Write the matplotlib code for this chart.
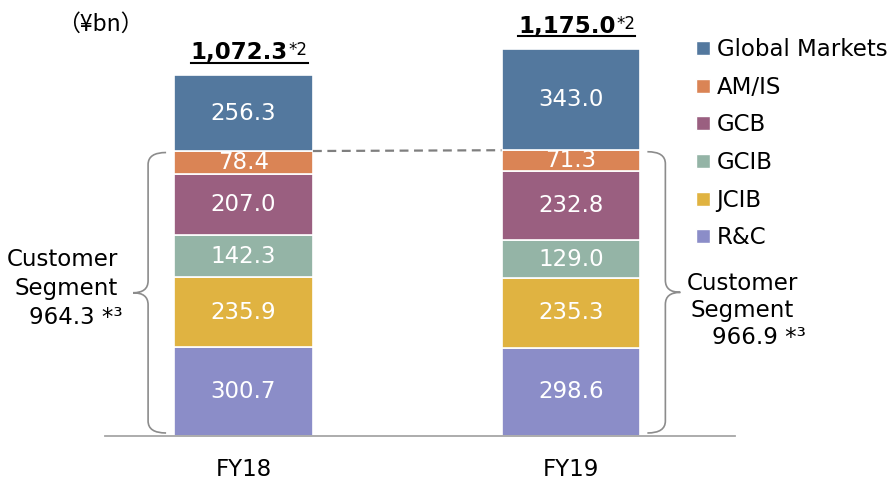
import matplotlib
matplotlib.use("Agg")
import matplotlib.pyplot as plt
from matplotlib.path import Path
from matplotlib.patches import PathPatch
from matplotlib.lines import Line2D

# データ（単位: ¥bn）
years = ["FY18", "FY19"]
segments = ["R&C", "JCIB", "GCIB", "GCB", "AM/IS", "Global Markets"]
rc = [300.7, 298.6]
jcib = [235.9, 235.3]
gcib = [142.3, 129.0]
gcb = [207.0, 232.8]
amis = [78.4, 71.3]
gm = [256.3, 343.0]
totals = [1072.3, 1175.0]
customer = [964.3, 966.9]

colors = ["#8B8DC8", "#E0B341", "#94B4A6", "#9A5F80", "#DA8455", "#53789E"]

W, H = 894, 479
plt.rcParams['font.family'] = ['DejaVu Sans']

fig = plt.figure(figsize=(W / 100, H / 100), dpi=100)
ax = fig.add_axes([105 / W, (H - 436) / H, (735 - 105) / W, 430 / H])
ax.set_xlim(-0.423, 1.501)
ax.set_ylim(0, 1455)

x = [0, 1]
width = 0.424
series = [rc, jcib, gcib, gcb, amis, gm]

bottom = [0.0, 0.0]
for name, vals, col in zip(segments, series, colors):
    ax.bar(x, vals, width, bottom=bottom, color=col, edgecolor="white",
           linewidth=1.2, label=name)
    for i in range(2):
        ax.text(x[i], bottom[i] + vals[i] / 2, f"{vals[i]:.1f}", color="white",
                ha="center", va="center", fontsize=16.5)
    bottom = [bottom[i] + vals[i] for i in range(2)]

# カスタマーセグメント上端
cust_top = [rc[i] + jcib[i] + gcib[i] + gcb[i] + amis[i] for i in range(2)]

# 点線
ax.plot([x[0] + width / 2, x[1] - width / 2], [cust_top[0], cust_top[1]],
        color="#7F7F7F", lw=1.6, linestyle=(0, (4, 2.5)))

# ピクセル→データ換算
upx = (1.501 + 0.423) / (735 - 105)
upy = 1455 / 430


def brace(xe, sign, top, bot):
    # sign = -1: 左向き, +1: 右向き
    xv = xe + sign * 18 * upx
    xt = xe + sign * 33 * upx
    r = 12 * upy
    mid = (top + bot) / 2
    verts = [(xe, top), (xv, top), (xv, top - r),
             (xv, mid + r),
             (xv, mid), (xt, mid),
             (xv, mid), (xv, mid - r),
             (xv, bot + r),
             (xv, bot), (xe, bot)]
    codes = [Path.MOVETO, Path.CURVE3, Path.CURVE3,
             Path.LINETO,
             Path.CURVE3, Path.CURVE3,
             Path.CURVE3, Path.CURVE3,
             Path.LINETO,
             Path.CURVE3, Path.CURVE3]
    ax.add_patch(PathPatch(Path(verts, codes), facecolor="none",
                           edgecolor="#8C8C8C", lw=1.2, clip_on=False))


brace(x[0] - width / 2 - 8 * upx, -1, cust_top[0] - 1.5 * upy, 3 * upy)
brace(x[1] + width / 2 + 7 * upx, 1, cust_top[1] - 1.5 * upy, 3 * upy)


def px(xp, yp):
    return xp / W, 1 - yp / H


fs = 16.5
for txt, (xp, yp) in zip(["Customer", "Segment", f"{customer[0]:.1f} *³"],
                         [(7, 260), (14, 289), (29, 317)]):
    fig.text(*px(xp, yp), txt, ha="left", va="center", fontsize=fs)
for txt, (xp, yp) in zip(["Customer", "Segment", f"{customer[1]:.1f} *³"],
                         [(687, 283), (691, 310), (712, 338)]):
    fig.text(*px(xp, yp), txt, ha="left", va="center", fontsize=fs)

# 合計
nums = []
sups = []
for i in range(2):
    t = ax.annotate(f"{totals[i]:,.1f}", xy=(x[i], bottom[i]), xytext=(-3, 11.5),
                    textcoords="offset points", ha="center", va="baseline",
                    fontsize=16.5, fontweight="bold")
    s = ax.annotate("*2", xy=(1, 1), xycoords=t, xytext=(0.5, 0),
                    textcoords="offset points", ha="left", va="top",
                    fontsize=12)
    nums.append(t)
    sups.append(s)

fig.text(*px(57, 24), "（¥bn）", ha="left", va="center", fontsize=16.5,
         family=["Noto Sans CJK JP", "DejaVu Sans"])

# 軸
for sp in ["top", "right", "left"]:
    ax.spines[sp].set_visible(False)
ax.spines["bottom"].set_color("#A6A6A6")
ax.spines["bottom"].set_linewidth(1.3)
ax.set_yticks([])
ax.set_xticks(x)
ax.set_xticklabels(years, fontsize=16.5)
ax.tick_params(axis="x", length=0, pad=15.5)

# 凡例
handles = [Line2D([0], [0], marker="s", color="w", markerfacecolor=c,
                  markersize=9.5, label=n)
           for n, c in zip(segments[::-1], colors[::-1])]
fig.legend(handles=handles, loc="upper left", bbox_to_anchor=px(696, 38),
           frameon=False, fontsize=16.5, handlelength=0.6, handletextpad=0.3,
           labelspacing=0.64, borderpad=0, borderaxespad=0)

# 下線
fig.canvas.draw()
inv = fig.transFigure.inverted()
for t, s in zip(nums, sups):
    b1 = t.get_window_extent()
    b2 = s.get_window_extent()
    y = b1.y0 + 1.5
    (fx0, fy), (fx1, _) = inv.transform([(b1.x0, y), (b2.x1, y)])
    fig.add_artist(Line2D([fx0, fx1], [fy, fy], color="black", lw=1.5))

fig.savefig("out.png", dpi=100)
